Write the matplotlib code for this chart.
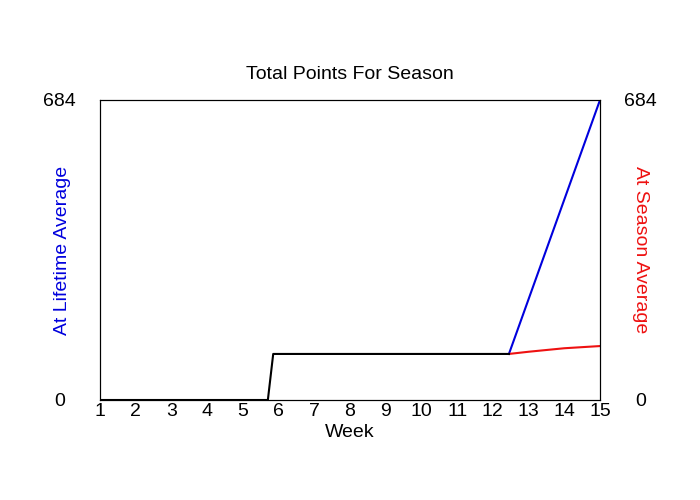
import matplotlib
matplotlib.use("Agg")
import matplotlib.pyplot as plt

plt.rcParams['font.family'] = ['Liberation Sans', 'DejaVu Sans']

weeks = list(range(1, 16))
ymax = 684

# season so far
base_weeks = [1, 5.7, 5.85, 12.45]
base_pts = [0, 0, 105, 105]

# projections
life_weeks = [12.45, 15]
life_pts = [105, 684]
season_weeks = [12.45, 13, 14, 15]
season_pts = [105, 110, 118, 123]

fig = plt.figure(figsize=(7, 5), dpi=100)
ax = fig.add_axes([100/700, 100/500, 500/700, 300/500])
ax2 = ax.twinx()

ax.plot(life_weeks, life_pts, color='#0000dd', lw=1.5)
ax.plot(season_weeks, season_pts, color='#ee1111', lw=1.5)
ax.plot(base_weeks, base_pts, color='black', lw=1.5)

for a in (ax, ax2):
    a.set_xlim(1, 15)
    a.set_ylim(0, ymax)
    a.set_yticks([0, ymax])
    a.set_yticklabels(['0', str(ymax)], fontsize=14, ha='center')
    a.tick_params(axis='both', length=0)

ax.set_xticks(weeks)
ax.set_xticklabels([str(w) for w in weeks], fontsize=14)
ax.tick_params(axis='x', pad=2)
ax.tick_params(axis='y', pad=29)
ax2.tick_params(axis='y', pad=29)

ax.set_xlabel('Week', fontsize=14, labelpad=3)
ax.set_ylabel('At Lifetime Average', color='#0000dd', fontsize=14, va='center')
ax.yaxis.set_label_coords(-0.075, 0.5)
ax2.set_ylabel('At Season Average', color='#ee1111', fontsize=14, rotation=270, va='center')
ax2.yaxis.set_label_coords(1.08, 0.5)

ax.set_title('Total Points For Season', fontsize=14, pad=15)

fig.savefig('out.png', dpi=100)
